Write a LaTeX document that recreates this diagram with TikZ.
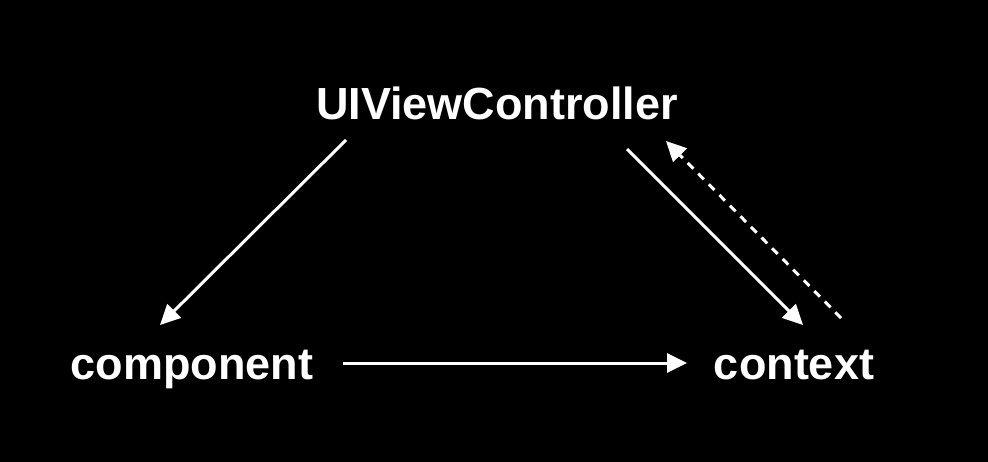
\documentclass[tikz,border=0pt]{standalone}
\usepackage{fontspec}
\setmainfont{Liberation Sans}
\usetikzlibrary{arrows.meta}
\begin{document}
\begin{tikzpicture}[x=1pt,y=-1pt,
  lbl/.style={text=white,font=\fontsize{45}{48}\selectfont\bfseries,anchor=base,inner sep=0pt},
  conn/.style={draw=white,line width=3pt,-{Triangle[length=20pt,width=19pt]}},
  back/.style={conn,dash pattern=on 8pt off 7pt}]
\fill[black] (0,0) rectangle (988,462);
\useasboundingbox (0,0) rectangle (988,462);
\node[lbl] (vc) at (497,120) {UIViewController};
\node[lbl] (comp) at (192,379) {component};
\node[lbl] (ctx) at (794,379) {context};
\coordinate (a1s) at (346,140);
\coordinate (a1e) at (160,325);
\coordinate (a2s) at (627,149);
\coordinate (a2e) at (803,325);
\coordinate (a3s) at (841,318);
\coordinate (a3e) at (666,141);
\coordinate (a4s) at (343,363);
\coordinate (a4e) at (687,363);
\draw[conn] (a1s) -- (a1e);
\draw[conn] (a2s) -- (a2e);
\draw[back] (a3s) -- (a3e);
\draw[conn] (a4s) -- (a4e);
\end{tikzpicture}
\end{document}
